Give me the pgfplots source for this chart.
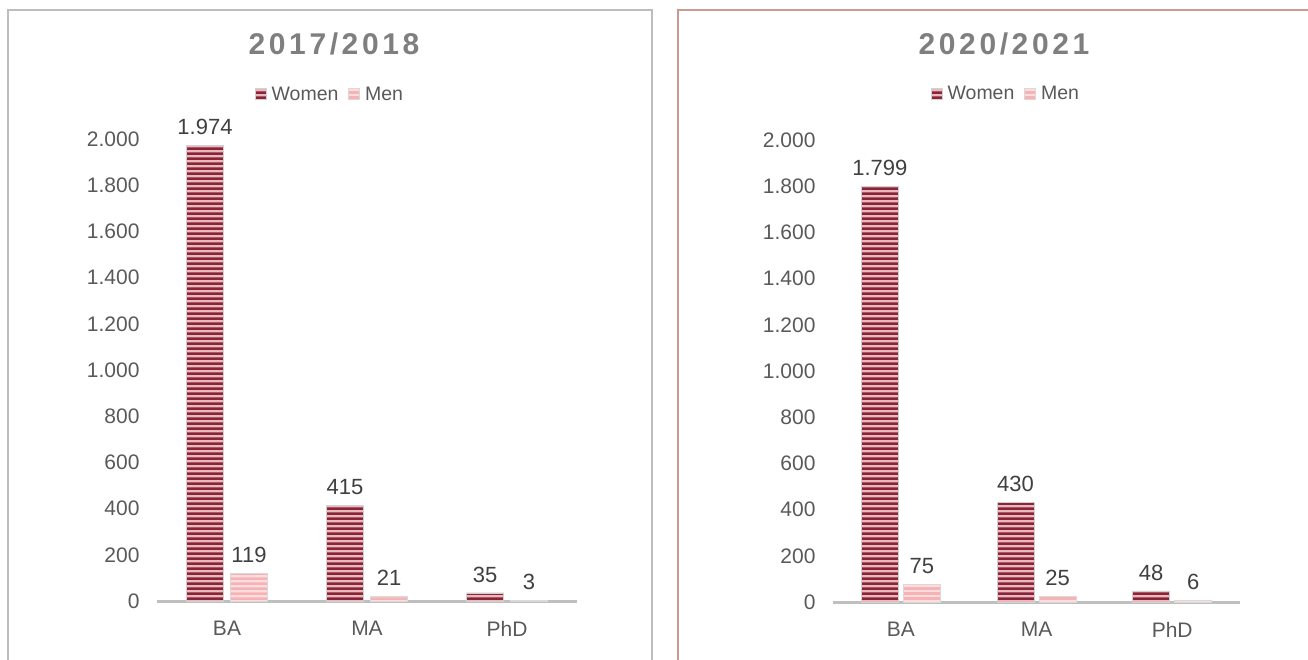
\documentclass[border=0pt]{standalone}
\usepackage{fontspec}
\setmainfont{Liberation Sans}
\newfontfamily\titlefont[LetterSpace=12]{Liberation Sans}
\usepackage{pgfplots}
\pgfplotsset{compat=1.18}
\usetikzlibrary{patterns}

% wide tiles, so that the stripes show no seams
\pgfdeclarepatternformonly{hstripes}{\pgfqpoint{0pt}{0pt}}{\pgfqpoint{60pt}{5pt}}{\pgfqpoint{60pt}{5pt}}{%
  \pgfpathrectangle{\pgfqpoint{-1pt}{0pt}}{\pgfqpoint{62pt}{3pt}}\pgfusepath{fill}}
\pgfdeclarepatternformonly{hstripesthin}{\pgfqpoint{0pt}{0pt}}{\pgfqpoint{60pt}{5pt}}{\pgfqpoint{60pt}{5pt}}{%
  \pgfpathrectangle{\pgfqpoint{-1pt}{0pt}}{\pgfqpoint{62pt}{3.2pt}}\pgfusepath{fill}}

\definecolor{womenfill}{HTML}{E9B9C0}
\definecolor{womenline}{HTML}{8A2436}
\definecolor{menfill}{HTML}{FCDCDD}
\definecolor{menline}{HTML}{F6B3B6}
\definecolor{textgray}{HTML}{595959}
\definecolor{labelgray}{HTML}{404040}
\definecolor{titlegray}{HTML}{7F7F7F}
\definecolor{axisgray}{HTML}{BFBFBF}
\definecolor{leftframe}{HTML}{BDBDBD}
\definecolor{rightframe}{HTML}{CC9894}

\pgfplotsset{
  women/.style={draw=white!82!black, line width=0.6pt, fill=womenfill,
    postaction={pattern=hstripes, pattern color=womenline}},
  men/.style={draw=white!85!black, line width=0.6pt, fill=menfill,
    postaction={pattern=hstripesthin, pattern color=menline}},
  panel/.style={
    ybar, scale only axis, height=462pt,
    ymin=0, ymax=2000, xmin=-0.5, xmax=2.5,
    bar width=37pt,
    xtick={0,1,2}, xticklabels={BA,MA,PhD},
    ytick={0,200,...,2000},
    axis x line*=bottom, axis y line*=left,
    y axis line style={draw=none},
    x axis line style={draw=axisgray, line width=3pt, -},
    major tick length=0pt,
    tick label style={font=\fontsize{21}{24}\selectfont, text=textgray},
    yticklabel style={xshift=-14pt},
    xticklabel style={yshift=-17pt},
    /pgf/number format/1000 sep={.},
    /pgf/number format/assume math mode=true,
    nodes near coords,
    nodes near coords style={font=\fontsize{22}{24}\selectfont, text=labelgray, yshift=7pt},
    legend columns=2,
    legend style={draw=none, fill=none, font=\fontsize{19.5}{22}\selectfont, text=textgray,
      /tikz/every odd column/.append style={column sep=3pt},
      /tikz/every even column/.append style={column sep=8pt}},
    legend image code/.code={\path[#1] (0pt,-5.5pt) rectangle (11pt,5.5pt);},
  },
}

\begin{document}
\begin{tikzpicture}
\useasboundingbox (0pt,0pt) rectangle (1308pt,659pt);
\draw[leftframe, line width=1.5pt] (8pt,-5pt) |- (652pt,649pt) -- (652pt,-5pt);
\draw[rightframe, line width=1.2pt] (678pt,-5pt) |- (1320pt,649pt);

% 2017/2018
\begin{axis}[panel, width=420pt, at={(157pt,58pt)}, anchor=south west,
  legend style={at={(0.412,1.097)}, anchor=center}]
\addplot[women, bar shift=-22pt] coordinates {(0,1974) (1,415) (2,35)};
\addplot[men, bar shift=22pt] coordinates {(0,119) (1,21) (2,3)};
\legend{Women,Men}
\end{axis}
\node[font=\titlefont\fontsize{30}{32}\selectfont\bfseries, text=titlegray] at (334pt,615pt) {2017/2018};

% 2020/2021
\begin{axis}[panel, width=407pt, at={(833pt,57pt)}, anchor=south west,
  legend style={at={(0.425,1.10)}, anchor=center}]
\addplot[women, bar shift=-21pt] coordinates {(0,1799) (1,430) (2,48)};
\addplot[men, bar shift=21pt] coordinates {(0,75) (1,25) (2,6)};
\legend{Women,Men}
\end{axis}
\node[font=\titlefont\fontsize{30}{32}\selectfont\bfseries, text=titlegray] at (1004pt,615pt) {2020/2021};
\end{tikzpicture}
\end{document}
